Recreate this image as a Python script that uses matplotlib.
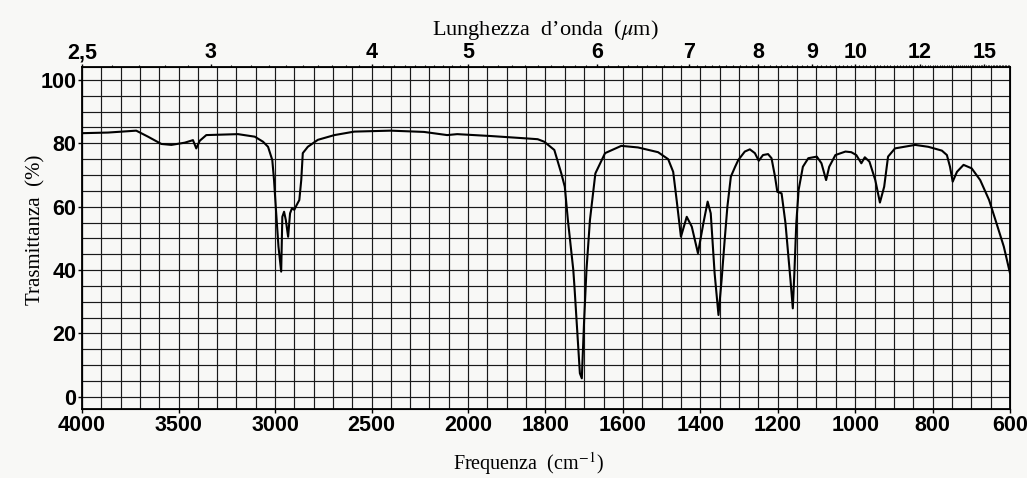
# ------------------------------------------------------------
# Spettro IR - trasmittanza vs numero d'onda (doppia scala)
# ------------------------------------------------------------
import numpy as np
import matplotlib
matplotlib.use("Agg")
import matplotlib.pyplot as plt

plt.rcParams["mathtext.fontset"] = "stix"

# ------------------------------------------------------------
# 1. Dati
# ------------------------------------------------------------
numeri_onda = [
    4000, 3865, 3719, 3658, 3589, 3537, 3468, 3425, 3408, 3390, 3356, 3192,
    3105, 3062, 3036, 3014, 3005, 2995, 2982, 2968, 2962, 2953, 2944, 2932,
    2922, 2912, 2900, 2888, 2874, 2864, 2856, 2830, 2778, 2692, 2589, 2401,
    2228, 2108, 2056, 1941, 1855, 1820, 1803, 1777, 1759, 1750, 1742, 1728,
    1725, 1711, 1706, 1700, 1694, 1685, 1671, 1646, 1604, 1561, 1509, 1483,
    1470, 1461, 1450, 1435, 1422, 1406, 1392, 1381, 1373, 1363, 1353, 1345,
    1337, 1330, 1321, 1310, 1302, 1285, 1272, 1259, 1249, 1238, 1225, 1216,
    1207, 1201, 1190, 1180, 1167, 1161, 1157, 1152, 1146, 1135, 1121, 1099,
    1087, 1075, 1067, 1051, 1025, 1010, 997, 984, 975, 963, 948, 936, 925,
    915, 897, 845, 811, 776, 763, 755, 748, 737, 720, 699, 677, 654, 635,
    616, 600,
]
trasmittanza = [
    83.2, 83.4, 84.0, 82.1, 79.8, 79.5, 80.2, 81.0, 78.4, 80.8, 82.6, 82.9,
    82.1, 80.5, 78.9, 74.7, 68.4, 59.0, 47.4, 39.5, 56.8, 58.4, 55.8, 50.5,
    57.9, 59.5, 59.0, 60.5, 62.1, 68.4, 76.9, 78.9, 81.1, 82.6, 83.7, 84.0,
    83.6, 82.6, 82.9, 82.3, 81.6, 81.3, 80.5, 77.9, 70.5, 66.3, 55.8, 40.0,
    34.7, 7.4, 5.8, 24.2, 40.0, 55.8, 70.5, 76.9, 79.2, 78.7, 77.2, 75.0,
    71.0, 62.0, 50.5, 56.8, 53.7, 45.3, 54.8, 61.6, 57.9, 39.0, 25.8, 36.8,
    49.5, 60.0, 69.5, 72.6, 74.7, 77.4, 78.1, 76.9, 74.5, 76.3, 76.6, 75.3,
    69.5, 64.7, 64.2, 54.8, 36.8, 27.9, 39.0, 54.8, 65.3, 72.6, 75.3, 75.8,
    73.7, 68.4, 72.6, 76.3, 77.4, 77.2, 76.3, 73.7, 75.6, 74.2, 68.4, 61.3,
    66.3, 75.8, 78.4, 79.5, 78.9, 77.7, 76.3, 72.6, 67.9, 71.0, 73.2, 72.1,
    68.4, 62.1, 54.8, 47.4, 39.0,
]

freq_ticks = [4000, 3500, 3000, 2500, 2000, 1800, 1600, 1400, 1200, 1000, 800, 600]
freq_labels = [str(f) for f in freq_ticks]
lambda_ticks = [2.5, 3, 4, 5, 6, 7, 8, 9, 10, 12, 15]
lambda_labels = ["2,5", "3", "4", "5", "6", "7", "8", "9", "10", "12", "15"]
y_ticks = [0, 20, 40, 60, 80, 100]

# ------------------------------------------------------------
# 2. Scala x a due tratti (4000-2000 compressa, 2000-600 espansa)
# ------------------------------------------------------------
def fwd(w):
    w = np.asarray(w, dtype=float)
    return np.where(w >= 2000, 542 + (w - 2000) * 386 / 2000, (w - 600) * 542 / 1400)


def inv(u):
    u = np.asarray(u, dtype=float)
    return np.where(u >= 542, 2000 + (u - 542) * 2000 / 386, 600 + u * 1400 / 542)


tick_font = dict(family=["Liberation Sans", "DejaVu Sans"], weight="bold", size=15.5)
label_font = dict(family=["Liberation Serif", "DejaVu Serif"])
bg = "#f8f8f6"

fig = plt.figure(figsize=(10.27, 4.78), dpi=100, facecolor=bg)
ax = fig.add_axes([82 / 1027, 1 - 409.4 / 478, 928 / 1027, (409.4 - 67.3) / 478])
ax.set_facecolor(bg)
ax.set_xscale("function", functions=(fwd, inv))
ax.set_xlim(4000, 600)
ax.set_ylim(-4, 104)

# griglia: 100 cm-1 sopra 2000, 50 cm-1 sotto; 5 % in verticale
grid_x = list(range(4000, 2000, -100)) + list(range(2000, 599, -50))
ax.set_xticks(freq_ticks)
ax.set_xticklabels(freq_labels, **tick_font)
ax.set_xticks(grid_x, minor=True)
ax.set_yticks(y_ticks)
ax.set_yticklabels([str(v) for v in y_ticks], **tick_font)
ax.set_yticks(range(0, 101, 5), minor=True)
ax.grid(which="both", color="#1a1a1a", linewidth=0.85)
ax.tick_params(which="minor", length=0)
ax.tick_params(which="major", length=3, width=1, pad=1, color="black")
for s in ax.spines.values():
    s.set_linewidth(1.3)

ax.plot(numeri_onda, trasmittanza, color="black", linewidth=1.5)

# ------------------------------------------------------------
# 3. Asse superiore: lunghezza d'onda in micrometri
# ------------------------------------------------------------
ax2 = ax.twiny()
ax2.set_xscale("function", functions=(fwd, inv))
ax2.set_xlim(4000, 600)
ax2.set_xticks([1e4 / l for l in lambda_ticks])
ax2.set_xticklabels(lambda_labels, **tick_font)
lam_minor = [round(l, 1) for l in np.arange(2.5, 16.7, 0.1) if round(l, 1) not in lambda_ticks]
ax2.set_xticks([1e4 / l for l in lam_minor], minor=True)
ax2.tick_params(which="major", length=2.5, width=1, pad=0.5)
ax2.tick_params(which="minor", length=1.8, width=0.8)

fig.text(545 / 1027, 1 - 30 / 478, "Lunghezza  d\u2019onda  ($\\mu$m)", ha="center", va="center",
         size=16, **label_font)
fig.text(528 / 1027, 1 - 464 / 478, "Frequenza  (cm$^{-1}$)", ha="center", va="center",
         size=14.5, **label_font)
fig.text(36 / 1027, 1 - 230 / 478, "Trasmittanza  (%)", ha="center", va="center", rotation=90,
         size=15, **label_font)

fig.savefig("out.png", dpi=100, facecolor=fig.get_facecolor())
